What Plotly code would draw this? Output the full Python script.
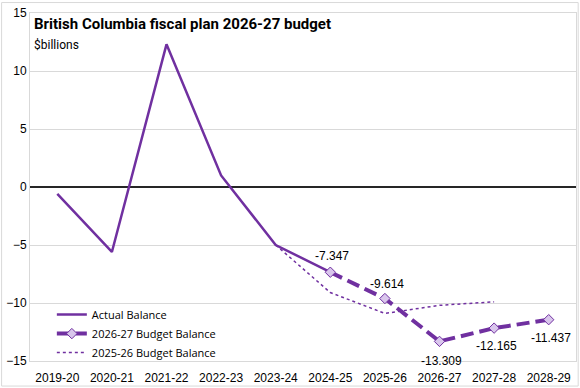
import plotly.graph_objects as go

years = ["2019-20", "2020-21", "2021-22", "2022-23", "2023-24",
         "2024-25", "2025-26", "2026-27", "2027-28", "2028-29"]
actual_years = years[:6]
actual_vals = [-0.6, -5.6, 12.3, 1.0, -5.0, -7.347]
budget2627_years = years[5:]
budget2627_vals = [-7.347, -9.614, -13.309, -12.165, -11.437]
budget2526_years = years[4:9]
budget2526_vals = [-5.0, -9.1, -10.9, -10.2, -9.9]
yticks = [-15, -10, -5, 0, 5, 10, 15]

purple = "#7030A0"
label_yshift = [16, 15, -20, -18, -18]

fig = go.Figure()
fig.add_trace(go.Scatter(x=actual_years, y=actual_vals, mode="lines", name="Actual Balance",
                         line=dict(color=purple, width=2.5)))
fig.add_trace(go.Scatter(x=budget2627_years, y=budget2627_vals, mode="lines+markers",
                         name="2026-27 Budget Balance",
                         line=dict(color=purple, width=4, dash="13px,6px"),
                         marker=dict(symbol="diamond", size=8, color="#D9C6EC",
                                     line=dict(color=purple, width=1))))
fig.add_trace(go.Scatter(x=budget2526_years, y=budget2526_vals, mode="lines", name="2025-26 Budget Balance",
                         line=dict(color=purple, width=1.5, dash="dot")))

for xv, yv, ys in zip(budget2627_years, budget2627_vals, label_yshift):
    fig.add_annotation(x=xv, y=yv, text=f"{yv:.3f}", showarrow=False, yshift=ys, xshift=2,
                       font=dict(family="Liberation Sans", size=12, color="#000000"))

fig.update_layout(
    width=580, height=388,
    margin=dict(l=30, r=4, t=13, b=27, autoexpand=False),
    paper_bgcolor="white", plot_bgcolor="white",
    font=dict(family="Liberation Sans", size=12, color="#000000"),
    showlegend=True,
    legend=dict(x=0.04, y=0.175, xanchor="left", yanchor="top",
                bgcolor="rgba(0,0,0,0)", font=dict(family="Open Sans", size=11),
                tracegroupgap=0, itemwidth=30),
    xaxis=dict(type="category", categoryorder="array", categoryarray=years,
               range=[-0.5, 9.5], showgrid=False, showline=True, mirror=True,
               linecolor="#D9D9D9", linewidth=1, ticks="", tickfont=dict(size=12),
               ticklabelstandoff=6),
    yaxis=dict(range=[-15, 15], tickvals=yticks, showgrid=True, gridcolor="#D9D9D9",
               showline=True, mirror=True, linecolor="#D9D9D9", linewidth=1,
               zeroline=True, zerolinecolor="#262626", zerolinewidth=2,
               ticks="", tickfont=dict(size=12)),
)
fig.add_annotation(text="<b>British Columbia fiscal plan 2026-27 budget</b>", xref="paper", yref="paper",
                   x=0.004, y=1.0, xanchor="left", yanchor="top", showarrow=False,
                   font=dict(family="Roboto", size=15, color="#000000"))
fig.add_annotation(text="$billions", xref="paper", yref="paper",
                   x=0.004, y=0.935, xanchor="left", yanchor="top", showarrow=False,
                   font=dict(family="Roboto", size=12, color="#000000"))
fig.add_shape(type="rect", xref="paper", yref="paper", x0=-0.052, x1=1.004, y0=-0.072, y1=1.03,
              line=dict(color="#D9D9D9", width=1))
fig.write_html("out.html", config={"displayModeBar": False},
               post_script="document.body.style.margin='0';")
